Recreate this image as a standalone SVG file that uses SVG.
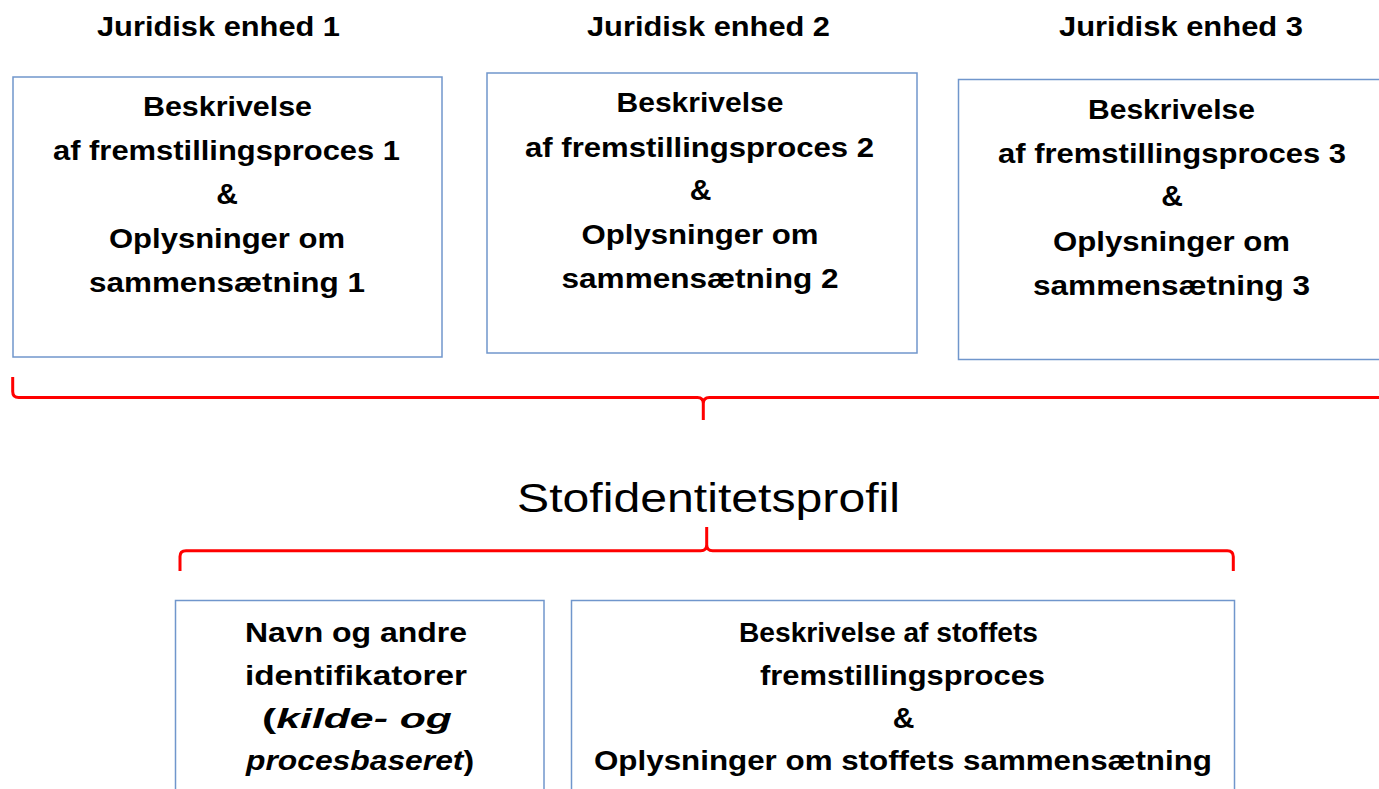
<svg xmlns="http://www.w3.org/2000/svg" width="1379" height="789" viewBox="0 0 1379 789">
<defs>
<style>
.box{fill:#ffffff;stroke:#7096cc;stroke-width:1.5}
.t{font-family:"Liberation Sans",Arial,sans-serif;font-weight:bold;font-size:28px;fill:#000;text-anchor:middle}
.amp{font-size:30px}
.title{font-family:"Liberation Sans",Arial,sans-serif;font-weight:normal;font-size:40px;fill:#000;text-anchor:middle}
.brace{fill:none;stroke:#ff0000;stroke-width:3;stroke-linecap:butt;stroke-linejoin:round}
</style>
</defs>
<rect width="1379" height="789" fill="#ffffff"/>

<g id="heading1"><text class="t" x="218.5" y="36" textLength="243" lengthAdjust="spacingAndGlyphs">Juridisk enhed 1</text></g>
<g id="heading2"><text class="t" x="708.5" y="36" textLength="243" lengthAdjust="spacingAndGlyphs">Juridisk enhed 2</text></g>
<g id="heading3"><text class="t" x="1181" y="36" textLength="244" lengthAdjust="spacingAndGlyphs">Juridisk enhed 3</text></g>

<g id="box1">
<rect class="box" x="13" y="77" width="429" height="280"/>
<text class="t" x="227.5" y="116" textLength="169" lengthAdjust="spacingAndGlyphs">Beskrivelse</text>
<text class="t" x="226.5" y="160" textLength="347" lengthAdjust="spacingAndGlyphs">af fremstillingsproces 1</text>
<text class="t amp" x="227" y="204">&amp;</text>
<text class="t" x="227" y="248" textLength="236" lengthAdjust="spacingAndGlyphs">Oplysninger om</text>
<text class="t" x="227" y="292" textLength="276" lengthAdjust="spacingAndGlyphs">sammensætning 1</text>
</g>

<g id="box2">
<rect class="box" x="487" y="73" width="430" height="280"/>
<text class="t" x="700" y="112" textLength="167" lengthAdjust="spacingAndGlyphs">Beskrivelse</text>
<text class="t" x="699.5" y="156.5" textLength="349" lengthAdjust="spacingAndGlyphs">af fremstillingsproces 2</text>
<text class="t amp" x="700.5" y="200">&amp;</text>
<text class="t" x="700" y="244" textLength="237" lengthAdjust="spacingAndGlyphs">Oplysninger om</text>
<text class="t" x="700" y="288" textLength="277" lengthAdjust="spacingAndGlyphs">sammensætning 2</text>
</g>

<g id="box3">
<rect class="box" x="958.5" y="79.5" width="440" height="280"/>
<text class="t" x="1171.5" y="119" textLength="167" lengthAdjust="spacingAndGlyphs">Beskrivelse</text>
<text class="t" x="1172" y="163" textLength="348" lengthAdjust="spacingAndGlyphs">af fremstillingsproces 3</text>
<text class="t amp" x="1172" y="206">&amp;</text>
<text class="t" x="1171.5" y="251" textLength="237" lengthAdjust="spacingAndGlyphs">Oplysninger om</text>
<text class="t" x="1171.5" y="295" textLength="277" lengthAdjust="spacingAndGlyphs">sammensætning 3</text>
</g>

<g id="connectors">
<path class="brace" d="M12.7,377 V391.5 Q12.7,397.5 18.7,397.5 H697.5 Q703.3,397.5 703.3,403.5 V420 M703.3,403.5 Q703.3,397.5 709.3,397.5 H1385"/>
<path class="brace" d="M180,571 V556.5 Q180,550.7 186,550.7 H700.7 Q706.7,550.7 706.7,544.7 V527 M706.7,544.7 Q706.7,550.7 712.7,550.7 H1227.3 Q1233.3,550.7 1233.3,556.7 V571"/>
</g>

<g id="title">
<text class="title" x="708.5" y="512" textLength="383" lengthAdjust="spacingAndGlyphs">Stofidentitetsprofil</text>
</g>

<g id="box4">
<rect class="box" x="175.5" y="600.5" width="368.5" height="220"/>
<text class="t" x="356" y="642" textLength="222" lengthAdjust="spacingAndGlyphs">Navn og andre</text>
<text class="t" x="356" y="685" textLength="222" lengthAdjust="spacingAndGlyphs">identifikatorer</text>
<text class="t" x="357" y="728" textLength="190" lengthAdjust="spacingAndGlyphs">(<tspan font-style="italic">kilde- og</tspan></text>
<text class="t" x="360" y="770" textLength="228" lengthAdjust="spacingAndGlyphs"><tspan font-style="italic">procesbaseret</tspan>)</text>
</g>

<g id="box5">
<rect class="box" x="571.5" y="600.5" width="663" height="220"/>
<text class="t" x="888.5" y="642" textLength="299" lengthAdjust="spacingAndGlyphs">Beskrivelse af stoffets</text>
<text class="t" x="902.5" y="685" textLength="285" lengthAdjust="spacingAndGlyphs">fremstillingsproces</text>
<text class="t amp" x="903.5" y="728">&amp;</text>
<text class="t" x="903" y="770" textLength="618" lengthAdjust="spacingAndGlyphs">Oplysninger om stoffets sammensætning</text>
</g>
</svg>
